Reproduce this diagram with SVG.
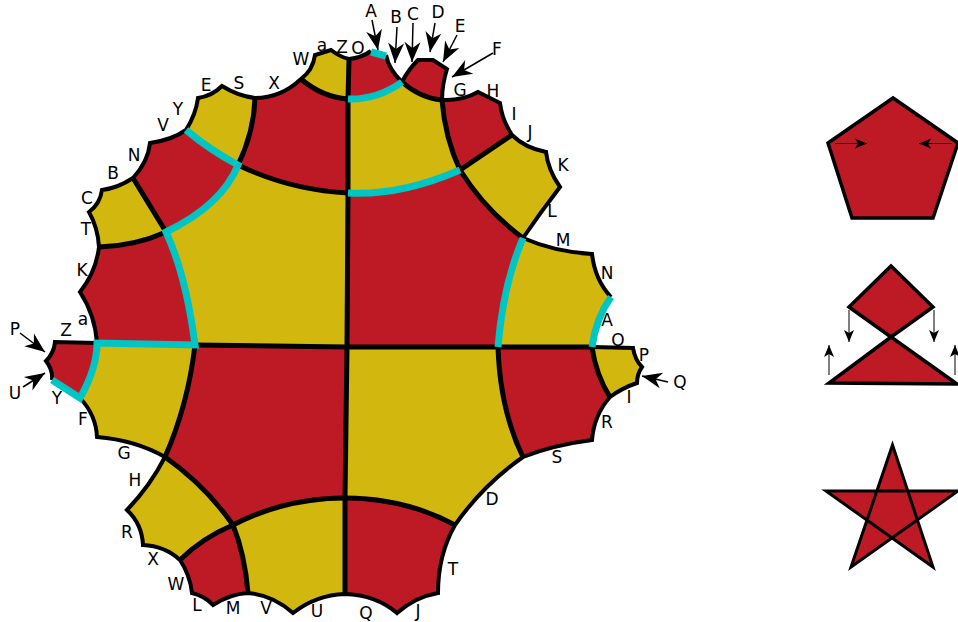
<svg xmlns="http://www.w3.org/2000/svg" width="958" height="622" viewBox="0 0 958 622">
<style>
.r{fill:#be1a26}.y{fill:#d2b70e}
.o{fill:none;stroke:#000;stroke-width:4;stroke-linejoin:miter}
.b{fill:none;stroke:#000;stroke-width:5}
.t{fill:none;stroke:#00c5c5;stroke-width:7}
.a{fill:none;stroke:#000;stroke-width:1.5;marker-end:url(#m)}
.s{fill:none;stroke:#000;stroke-width:1;marker-end:url(#n)}
.f{stroke:#000;stroke-width:3.5;fill:#be1a26;stroke-linejoin:miter;stroke-miterlimit:10}
text{font-family:"DejaVu Sans",sans-serif;font-size:17px;text-anchor:middle;fill:#000}
</style>
<defs>
<marker id="m" markerUnits="userSpaceOnUse" markerWidth="24" markerHeight="20" refX="20" refY="8" orient="auto" overflow="visible"><path d="M20 8L0 0L6 8L0 16Z" fill="#000"/></marker>
<marker id="n" markerUnits="userSpaceOnUse" markerWidth="14" markerHeight="12" refX="12" refY="5" orient="auto" overflow="visible"><path d="M12 5L0 0L3 5L0 10Z" fill="#000"/></marker>
</defs>
<g id="faces">
<path id="f1" class="r" d="M255 98Q281 98 301 79Q322 97 348 99L348 193Q290 190 238 165Q254 132 255 98Z"/>
<path id="f2" class="r" d="M349 59Q361 58 371 51L386 55Q389 70 402 82Q377 100 348 99Z"/>
<path id="f3" class="r" d="M402 82Q408 70 418 60L433 60L447 69Q442 85 442 100Q420 98 402 82Z"/>
<path id="f4" class="r" d="M442 100Q462 101 478 92L500 103Q502 120 512 135L460 170Q445 138 442 100Z"/>
<path id="f5" class="r" d="M348 193Q400 196 460 170Q485 210 523 238Q503 285 498 347L347 347Z"/>
<path id="f6" class="r" d="M186 130Q172 140 150 143Q148 162 133 178L166 232Q222 205 238 165Q210 150 186 130Z"/>
<path id="f7" class="r" d="M99 247Q135 246 166 232Q186 275 195 345L97 343Q95 315 80 292Q96 272 99 247Z"/>
<path id="f8" class="r" d="M195 345L347 347L345 498Q285 498 233 525Q205 485 165 457Q188 405 195 345Z"/>
<path id="f9" class="r" d="M55 342L97 343Q97 368 80 398L52 380Q53 370 46 361Q54 353 55 342Z"/>
<path id="f10" class="r" d="M498 347L592 347Q596 375 610 397Q594 415 592 440Q553 445 523 457Q500 410 498 347Z"/>
<path id="f11" class="r" d="M345 498Q405 498 455 525Q438 555 438 593Q415 597 397 613Q376 595 345 594Z"/>
<path id="f12" class="r" d="M233 525Q245 555 248 593Q230 594 213 605Q205 596 192 593Q190 575 180 560Q202 538 233 525Z"/>
<path id="f13" class="y" d="M301 79Q313 70 315 55L331 50Q340 57 349 59L348 99Q322 97 301 79Z"/>
<path id="f14" class="y" d="M348 99Q377 100 402 82Q420 98 442 100Q445 138 460 170Q400 196 348 193Z"/>
<path id="f15" class="y" d="M460 170L512 135Q525 148 546 152Q548 170 560 187Q540 213 523 238Q485 210 460 170Z"/>
<path id="f16" class="y" d="M523 238Q555 252 592 254Q595 280 611 297Q596 318 592 347L498 347Q503 285 523 238Z"/>
<path id="f17" class="y" d="M592 347L633 348Q635 360 642 367Q637 374 637 383Q622 388 610 397Q596 375 592 347Z"/>
<path id="f18" class="y" d="M347 347L498 347Q500 410 523 457Q483 485 455 525Q405 498 345 498Z"/>
<path id="f19" class="y" d="M233 525Q285 498 345 498L345 594Q316 595 293 613Q273 595 248 593Q245 555 233 525Z"/>
<path id="f20" class="y" d="M165 457Q205 485 233 525Q202 538 180 560Q165 546 143 545Q142 524 127 510Q150 486 165 457Z"/>
<path id="f21" class="y" d="M97 343L195 345Q188 405 165 457Q135 440 97 437Q96 415 80 398Q97 368 97 343Z"/>
<path id="f22" class="y" d="M166 232Q222 205 238 165Q290 190 348 193L347 347L195 345Q186 275 166 232Z"/>
<path id="f23" class="y" d="M133 178L166 232Q135 246 99 247Q98 228 89 212Q100 204 102 190Q118 188 133 178Z"/>
<path id="f24" class="y" d="M186 130Q196 114 198 98Q212 96 222 86Q238 96 255 98Q254 132 238 165Q210 150 186 130Z"/>
</g>
<g id="connectors">
<path class="o" d="M386 55Q389 70 402 82Q408 70 418 60L433 60L447 69Q442 85 442 100Q462 101 478 92L500 103Q502 120 512 135Q525 148 546 152Q548 170 560 187Q540 213 523 238Q555 252 592 254Q595 280 611 297"/>
<path class="o" d="M592 347L633 348Q635 360 642 367Q637 374 637 383Q622 388 610 397Q594 415 592 440Q553 445 523 457Q483 485 455 525Q438 555 438 593Q415 597 397 613Q376 595 345 594Q316 595 293 613Q273 595 248 593Q230 594 213 605Q205 596 192 593Q190 575 180 560Q165 546 143 545Q142 524 127 510Q150 486 165 457Q135 440 97 437Q96 415 80 398"/>
<path class="o" d="M52 380Q53 370 46 361Q54 353 55 342L97 343Q95 315 80 292Q96 272 99 247Q98 228 89 212Q100 204 102 190Q118 188 133 178Q148 162 150 143Q172 140 186 130Q196 114 198 98Q212 96 222 86Q238 96 255 98Q281 98 301 79Q313 70 315 55L331 50Q340 57 349 59Q361 58 371 51"/>
<path class="b" d="M349 59L348 99L348 193L347 347L345 498L345 594"/>
<path class="b" d="M195 345L347 347L498 347L592 347"/>
<path class="b" d="M255 98Q254 132 238 165Q290 190 348 193"/>
<path class="b" d="M301 79Q322 97 348 99"/>
<path class="b" d="M402 82Q420 98 442 100Q445 138 460 170L512 135"/>
<path class="b" d="M460 170Q485 210 523 238"/>
<path class="b" d="M133 178L166 232Q135 246 99 247"/>
<path class="b" d="M592 347Q596 375 610 397"/>
<path class="b" d="M498 347Q500 410 523 457"/>
<path class="b" d="M195 345Q188 405 165 457Q205 485 233 525Q245 555 248 593"/>
<path class="b" d="M180 560Q202 538 233 525Q285 498 345 498Q405 498 455 525"/>
<path class="t" d="M371 52L386 56"/>
<path class="t" d="M348 99Q377 100 402 82"/>
<path class="t" d="M348 193Q400 196 460 170"/>
<path class="t" d="M523 238Q503 285 498 347"/>
<path class="t" d="M611 297Q596 318 592 347"/>
<path class="t" d="M186 130Q210 150 238 165Q222 205 166 232Q186 275 195 345L97 343Q97 368 80 398L52 380"/>
<path class="a" d="M372 20L378 50"/>
<path class="a" d="M397 27L395 63"/>
<path class="a" d="M413 23L412 62"/>
<path class="a" d="M435 23L430 52"/>
<path class="a" d="M457 35L443 62"/>
<path class="a" d="M493 53L452 77"/>
<path class="a" d="M20 333L45 352"/>
<path class="a" d="M23 387L45 373"/>
<path class="a" d="M668 382L642 376"/>
</g>
<g id="pentagon"><path class="f" d="M893 98L828 143L852 218L933 218L958 143Z"/>
<path class="s" d="M835 143.500L867 143.500"/><path class="s" d="M952 143.500L919 143.500"/></g>
<g id="kite"><path class="f" d="M891 266L849 307L891 337L933 307Z"/><path class="f" d="M891 337L829 383L957 384Z"/>
<path class="s" d="M849 310L849 342"/><path class="s" d="M934 310L934 342"/><path class="s" d="M829 375L829 345"/><path class="s" d="M955 375L955 345"/></g>
<g id="star"><path class="f" style="stroke-width:3" d="M892.500 445L933 567L826 491L958 491L851 567Z"/></g>
<g id="labels">
<text x="371" y="17">A</text><text x="396" y="23">B</text><text x="413" y="20">C</text><text x="438" y="18">D</text><text x="460" y="32">E</text><text x="497" y="55">F</text>
<text x="322" y="51">a</text><text x="342" y="53">Z</text><text x="358" y="54">O</text><text x="301" y="65">W</text>
<text x="460" y="96">G</text><text x="493" y="97">H</text><text x="514" y="120">I</text><text x="530" y="138">J</text><text x="563" y="171">K</text><text x="552" y="217">L</text><text x="563" y="246">M</text><text x="607" y="279">N</text><text x="607" y="326">A</text><text x="618" y="346">O</text><text x="644" y="361">P</text><text x="680" y="388">Q</text><text x="629" y="403">I</text><text x="607" y="428">R</text><text x="557" y="463">S</text><text x="492" y="505">D</text><text x="453" y="575">T</text><text x="418" y="617">J</text><text x="366" y="619">Q</text><text x="317" y="617">U</text><text x="266" y="614">V</text><text x="233" y="614">M</text><text x="197" y="611">L</text><text x="176" y="590">W</text><text x="153" y="565">X</text><text x="127" y="538">R</text><text x="135" y="486">H</text><text x="124" y="459">G</text><text x="83" y="425">F</text><text x="57" y="404">Y</text><text x="15" y="399">U</text><text x="15" y="335">P</text><text x="66" y="336">Z</text><text x="83" y="325">a</text><text x="82" y="276">K</text><text x="86" y="235">T</text><text x="87" y="204">C</text><text x="113" y="179">B</text><text x="134" y="161">N</text><text x="163" y="131">V</text><text x="178" y="115">Y</text><text x="206" y="91">E</text><text x="239" y="89">S</text><text x="274" y="89">X</text>
</g>
</svg>
